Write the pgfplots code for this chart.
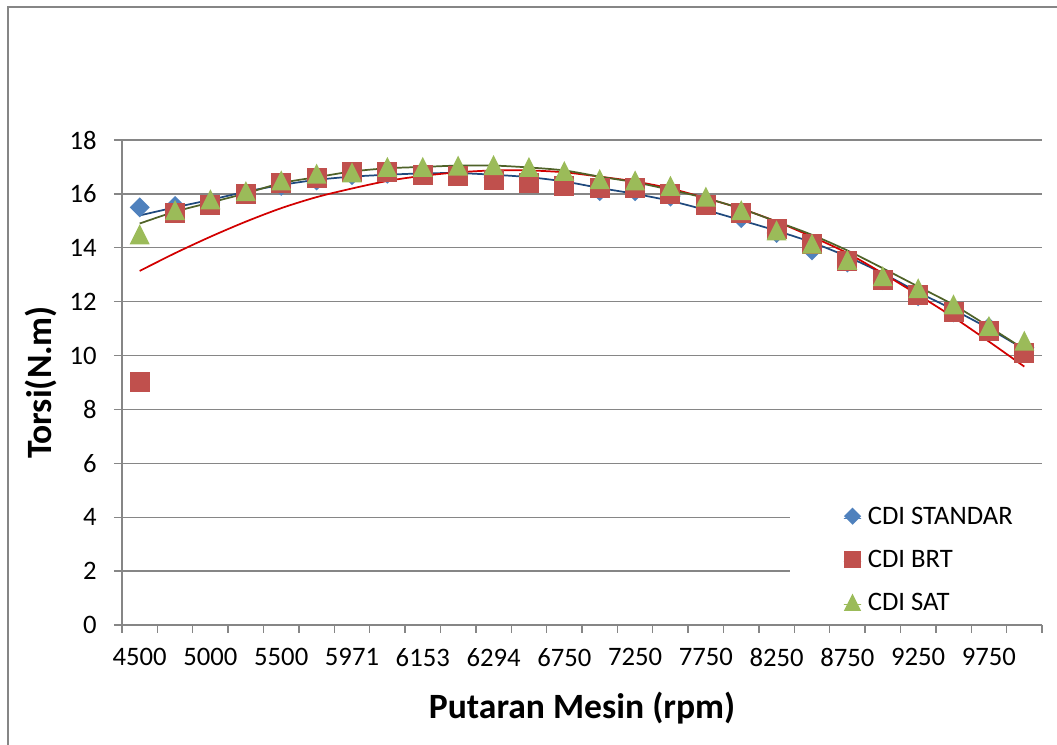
\documentclass[border=0pt]{standalone}
\usepackage{fontspec}
\setmainfont{Carlito}
\usepackage{pgfplots}
\pgfplotsset{compat=1.18}
\definecolor{cstd}{RGB}{79,129,189}
\definecolor{cbrt}{RGB}{192,80,77}
\definecolor{csat}{RGB}{155,187,89}
\definecolor{tstd}{RGB}{31,73,125}
\definecolor{tbrt}{RGB}{210,0,0}
\definecolor{tsat}{RGB}{79,98,40}
\definecolor{gridc}{RGB}{134,134,134}
\pgfdeclareplotmark{xldiamond}{%
  \pgfpathmoveto{\pgfqpoint{0pt}{\pgfplotmarksize}}%
  \pgfpathlineto{\pgfqpoint{\pgfplotmarksize}{0pt}}%
  \pgfpathlineto{\pgfqpoint{0pt}{-\pgfplotmarksize}}%
  \pgfpathlineto{\pgfqpoint{-\pgfplotmarksize}{0pt}}%
  \pgfpathclose\pgfusepathqfill}
\pgfdeclareplotmark{xlsquare}{%
  \pgfpathrectangle{\pgfqpoint{-\pgfplotmarksize}{-\pgfplotmarksize}}{\pgfqpoint{2\pgfplotmarksize}{2\pgfplotmarksize}}%
  \pgfusepathqfill}
\pgfdeclareplotmark{xltri}{%
  \pgfpathmoveto{\pgfqpoint{0pt}{\pgfplotmarksize}}%
  \pgfpathlineto{\pgfqpoint{\pgfplotmarksize}{-\pgfplotmarksize}}%
  \pgfpathlineto{\pgfqpoint{-\pgfplotmarksize}{-\pgfplotmarksize}}%
  \pgfpathclose\pgfusepathqfill}

\pgfplotstableread{
x std brt sat tstd tbrt tsat
0  15.50 9.00  14.50 15.20 13.14 14.90
1  15.55 15.30 15.40 15.50 13.80 15.34
2  15.70 15.60 15.80 15.78 14.41 15.68
3  16.00 16.00 16.10 16.08 14.97 16.02
4  16.30 16.40 16.50 16.33 15.47 16.40
5  16.50 16.60 16.75 16.52 15.88 16.62
6  16.70 16.80 16.80 16.64 16.20 16.83
7  16.75 16.80 17.00 16.71 16.48 16.95
8  16.75 16.70 17.00 16.76 16.67 17.00
9  16.70 16.65 17.05 16.77 16.80 17.05
10 16.60 16.50 17.07 16.71 16.87 17.05
11 16.50 16.40 17.00 16.62 16.87 16.98
12 16.40 16.30 16.85 16.46 16.80 16.87
13 16.10 16.20 16.55 16.22 16.64 16.64
14 16.10 16.20 16.50 16.00 16.46 16.43
15 15.90 16.00 16.30 15.74 16.20 16.15
16 15.60 15.60 15.90 15.40 15.84 15.84
17 15.10 15.30 15.40 15.02 15.45 15.45
18 14.55 14.70 14.65 14.63 14.97 14.97
19 13.90 14.15 14.15 14.20 14.41 14.48
20 13.45 13.50 13.55 13.67 13.80 13.90
21 12.80 12.80 12.95 13.05 13.05 13.24
22 12.20 12.25 12.50 12.35 12.25 12.56
23 11.60 11.60 11.90 11.70 11.42 11.88
24 11.05 10.90 11.10 11.00 10.52 11.07
25 10.30 10.10 10.55 10.23 9.59  10.23
}\datatable

\begin{document}
\begin{tikzpicture}[x=1pt,y=1pt]
\path[use as bounding box] (0,0) rectangle (792.75,558.75);
\draw[color=gridc, line width=1.5pt] (6,0) -- (6,553.5) -- (793,553.5);
\begin{axis}[
  at={(91.5pt,90pt)}, anchor=south west,
  scale only axis, width=690pt, height=363.75pt,
  xmin=-0.5, xmax=25.5, ymin=0, ymax=18,
  clip=false,
  axis x line=bottom, axis y line=left,
  axis line style={-, gridc, line width=1pt},
  tick align=outside, major tick length=0pt, minor tick length=6pt,
  tick style={gridc, line width=1pt},
  ytick={0,2,...,18},
  minor ytick={0,2,...,18},
  ymajorgrids, major grid style={gridc, line width=1pt},
  xtick={0,2,4,6,8,10,12,14,16,18,20,22,24},
  xticklabels={4500,5000,5500,5971,6153,6294,6750,7250,7750,8250,8750,9250,9750},
  minor xtick={-0.5,0.5,1.5,2.5,3.5,4.5,5.5,6.5,7.5,8.5,9.5,10.5,11.5,12.5,13.5,14.5,15.5,16.5,17.5,18.5,19.5,20.5,21.5,22.5,23.5,24.5,25.5},
  /pgf/number format/assume math mode=true,
  ticklabel style={font=\fontsize{20}{24}\selectfont},
  xticklabel style={yshift=-14pt},
  yticklabel style={xshift=-15.5pt},
  xlabel={Putaran Mesin (rpm)}, ylabel={Torsi(N.m)},
  every axis x label/.style={at={(axis description cs:0.5,-0.172)}, anchor=center, font=\fontsize{26.7}{31}\selectfont\bfseries},
  every axis y label/.style={at={(axis description cs:-0.088,0.5)}, anchor=center, rotate=90, font=\fontsize{26.7}{31}\selectfont\bfseries},
  legend cell align=left,
  legend image code/.code={\path (0pt,0pt) rectangle (12.8pt,0pt);\draw[#1,mark size=6.4pt] plot coordinates {(6.4pt,1.3pt)};},
  legend style={at={(rel axis cs:0.7842,0.246)}, anchor=north west, draw=none, fill=none,
    inner sep=0pt, row sep=14.25pt, column sep=4.85pt,
    nodes={inner sep=0pt, font=\fontsize{20}{24}\selectfont, text height=14pt, text depth=4pt}},
]
\addplot[only marks, mark=xldiamond, mark size=7.5pt, color=cstd] table[x=x,y=std]{\datatable};
\addlegendentry{CDI STANDAR}
\addplot[only marks, mark=xlsquare, mark size=7.5pt, color=cbrt] table[x=x,y=brt]{\datatable};
\addlegendentry{CDI BRT}
\addplot[only marks, mark=xltri, mark size=7.5pt, color=csat] table[x=x,y=sat]{\datatable};
\addlegendentry{CDI SAT}
\addplot[forget plot, smooth, no markers, tstd, line width=1.3pt] table[x=x,y=tstd]{\datatable};
\addplot[forget plot, smooth, no markers, tbrt, line width=1.3pt] table[x=x,y=tbrt]{\datatable};
\addplot[forget plot, smooth, no markers, tsat, line width=1.3pt] table[x=x,y=tsat]{\datatable};
\fill[white] (rel axis cs:0.726,0.02) rectangle (rel axis cs:1.01,0.29);
\end{axis}
\end{tikzpicture}
\end{document}
